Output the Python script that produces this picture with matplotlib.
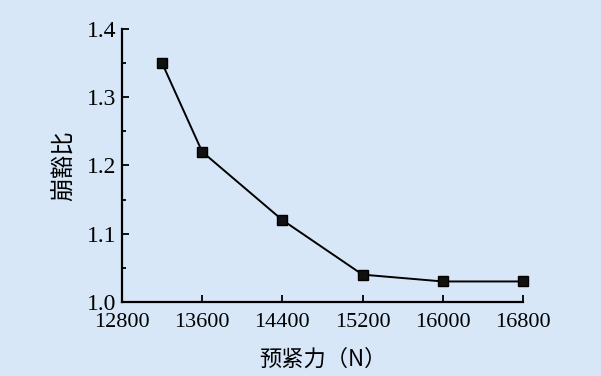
import matplotlib.pyplot as plt
from matplotlib.ticker import MultipleLocator

preload = [13200, 13600, 14400, 15200, 16000, 16800]
ratio = [1.35, 1.22, 1.12, 1.04, 1.03, 1.03]
x_ticks = [12800, 13600, 14400, 15200, 16000, 16800]
y_ticks = [1.0, 1.1, 1.2, 1.3, 1.4]

bg = "#d7e7f8"
cjk = ["Noto Sans CJK SC", "DejaVu Sans"]

fig = plt.figure(figsize=(6.01, 3.76), dpi=100, facecolor=bg)
ax = fig.add_axes([0.203, 0.197, 0.667, 0.726], facecolor=bg)

ax.plot(preload, ratio, color="black", lw=1.4, marker="s", ms=7,
        mfc="#111111", mec="black", clip_on=False)

ax.set_xlim(12800, 16800)
ax.set_ylim(1.0, 1.4)
ax.set_xticks(x_ticks)
ax.set_yticks(y_ticks)
ax.yaxis.set_minor_locator(MultipleLocator(0.05))

for side in ("top", "right"):
    ax.spines[side].set_visible(False)
for side in ("left", "bottom"):
    ax.spines[side].set_linewidth(1.6)

ax.tick_params(which="both", direction="in", width=1.3)
ax.tick_params(which="major", length=5)
ax.tick_params(which="minor", length=3)
ax.tick_params(axis="x", pad=8)
ax.tick_params(axis="y", pad=4)
ax.set_yticklabels([f"{v:.1f}" for v in y_ticks])
for lab in ax.get_xticklabels():
    lab.set_fontfamily("Liberation Serif")
    lab.set_fontsize(16)
for lab in ax.get_yticklabels():
    lab.set_fontfamily("Liberation Serif")
    lab.set_fontsize(17)

ax.set_xlabel("预紧力（N）", family=cjk, fontsize=16, labelpad=11)
ax.set_ylabel("崩豁比", family=cjk, fontsize=17, labelpad=9)

fig.savefig("out.png", dpi=100, facecolor=bg)
